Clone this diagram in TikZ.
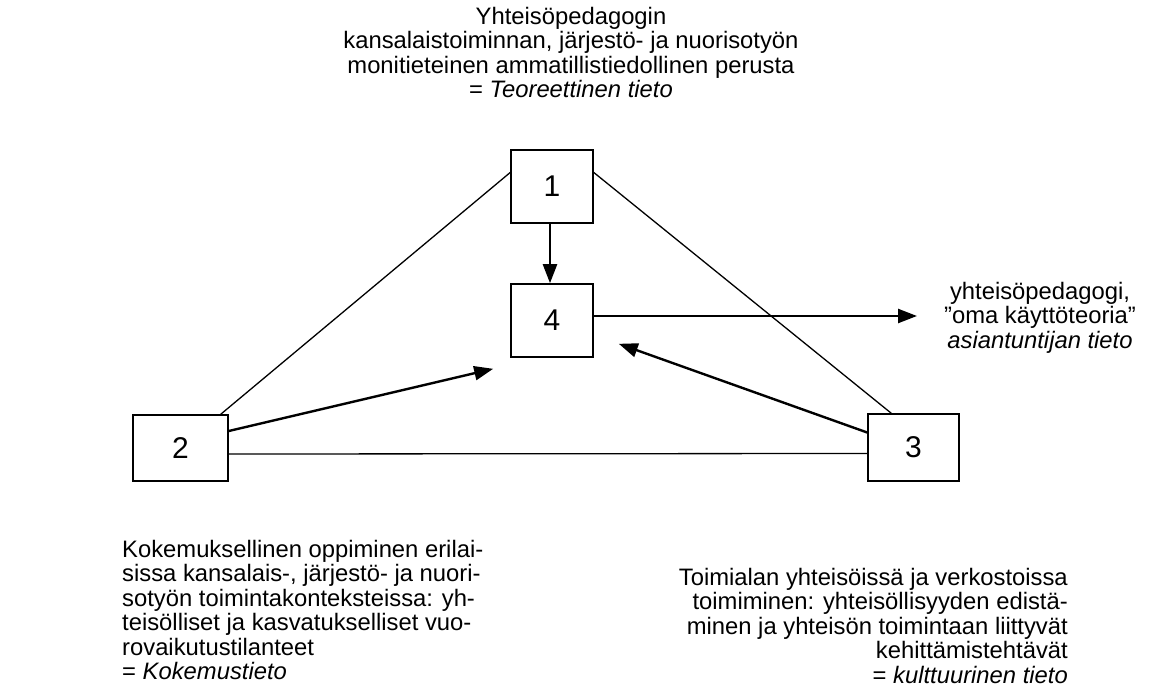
\documentclass[tikz,border=0pt]{standalone}
\usepackage{fontspec}
\setmainfont{Liberation Sans}
\usetikzlibrary{arrows.meta}
\begin{document}
\begin{tikzpicture}[x=1pt,y=-1pt,
  numbox/.style={draw,line width=1.6pt,minimum width=#1,inner sep=0pt,font=\fontsize{30}{32}\selectfont},
  thin line/.style={line width=1.3pt},
  arr/.style={line width=2.4pt,-{Triangle[length=19pt,width=14pt]}},
  txt/.style={inner sep=0pt,font=\fontsize{23.8}{24.4}\selectfont}]
\useasboundingbox (0,0) rectangle (1157,687);
\node[numbox=82pt,minimum height=73pt] (b1) at (552,186.5) {1};
\node[numbox=82pt,minimum height=73pt] (b4) at (552,320.5) {4};
\node[numbox=95pt,minimum height=66pt] (b2) at (180.5,448) {2};
\node[numbox=91pt,minimum height=67pt] (b3) at (913.5,447.5) {3};
\coordinate (t4) at (917,316);
\coordinate (a2) at ([xshift=-17pt,yshift=-11pt]b4.south west);
\coordinate (a3) at ([xshift=25pt,yshift=14pt]b4.south east);
\draw[thin line] ([yshift=14pt]b1.west) -- ([xshift=-8pt]b2.north east);
\draw[thin line] ([yshift=14pt]b1.east) -- ([xshift=24pt]b3.north west);
\draw[thin line] ([yshift=-6pt]b2.east) -- ([yshift=-6pt]b3.west);
\draw[arr] ([xshift=-2pt]b1.south) -- ([xshift=-2pt]b4.north);
\draw[arr] ([yshift=4.5pt]b4.east) -- (t4);
\draw[arr] ([yshift=17pt]b2.east) -- (a2);
\draw[arr] ([yshift=15pt]b3.west) -- (a3);
\node[txt,align=center,anchor=north] (ttop) at (571,7) {Yhteisöpedagogin\\kansalaistoiminnan, järjestö- ja nuorisotyön\\monitieteinen ammatillistiedollinen perusta\\= \textit{Teoreettinen tieto}};
\node[txt,align=center,anchor=north] (tright) at (1040,282) {yhteisöpedagogi,\\”oma käyttöteoria”\\\textit{asiantuntijan tieto}};
\node[txt,align=left,anchor=north west] (tleft) at (122,540) {Kokemuksellinen oppiminen erilai-\\sissa kansalais-, järjestö- ja nuori-\\sotyön toimintakonteksteissa: yh-\\teisölliset ja kasvatukselliset vuo-\\rovaikutustilanteet\\= \textit{Kokemustieto}};
\node[txt,align=right,anchor=north east] (tbr) at (1068,568) {Toimialan yhteisöissä ja verkostoissa\\toimiminen: yhteisöllisyyden edistä-\\minen ja yhteisön toimintaan liittyvät\\kehittämistehtävät\\= \textit{kulttuurinen tieto}};
\end{tikzpicture}
\end{document}
